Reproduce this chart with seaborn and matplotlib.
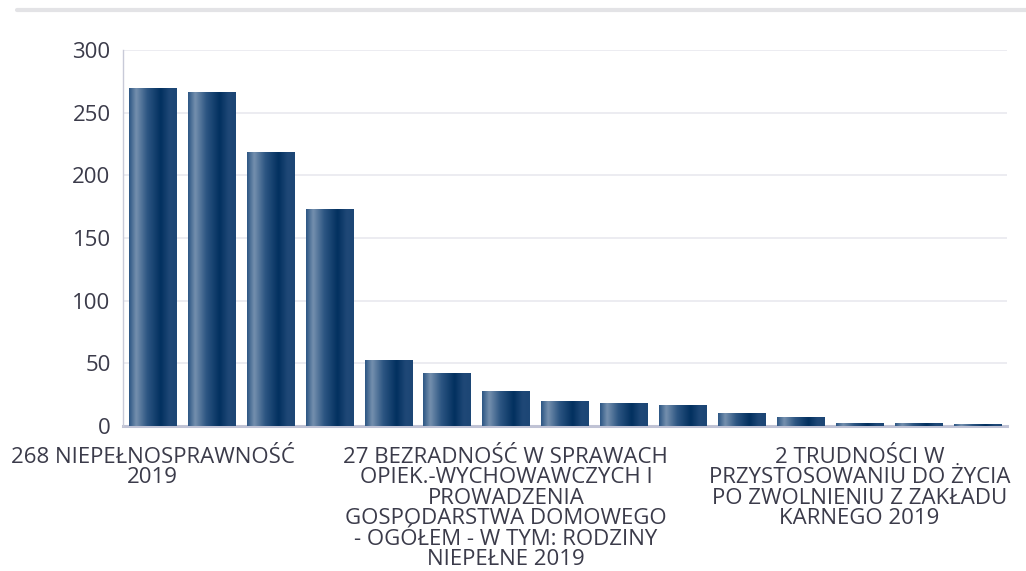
import numpy as np
import pandas as pd
import seaborn as sns
import matplotlib.pyplot as plt
from matplotlib.colors import LinearSegmentedColormap
from matplotlib.lines import Line2D

# values
values = [270, 267, 219, 173, 53, 42, 28, 20, 18, 17, 10, 7, 2.5, 2.5, 1.2]
# only every 6th category label is printed in the reference
labels = ["268 NIEPEŁNOSPRAWNOŚĆ\n2019", "", "", "", "", "",
          "27 BEZRADNOŚĆ W SPRAWACH\nOPIEK.-WYCHOWAWCZYCH I\nPROWADZENIA\n"
          "GOSPODARSTWA DOMOWEGO\n- OGÓŁEM - W TYM: RODZINY\nNIEPEŁNE 2019",
          "", "", "", "", "",
          "2 TRUDNOŚCI W\nPRZYSTOSOWANIU DO ŻYCIA\nPO ZWOLNIENIU Z ZAKŁADU\nKARNEGO 2019",
          "", ""]
yticks = [0, 50, 100, 150, 200, 250, 300]

df = pd.DataFrame({"idx": list(range(len(values))), "value": values})

sns.set_style("white")
plt.rcParams['font.family'] = ['Open Sans', 'DejaVu Sans']
text_col = "#3b3b4a"

fig = plt.figure(figsize=(10.26, 5.71), dpi=100)
ax = fig.add_axes([0.12, 0.254, 0.861, 0.658])

sns.barplot(data=df, x="idx", y="value", ax=ax, width=0.8,
            color="#003366", saturation=1, zorder=3)

# horizontal gradient fill for each bar, clipped to the bar shape
grad_cmap = LinearSegmentedColormap.from_list("bar", [
    (0.0, "#2b5583"), (0.15, "#7590ae"), (0.38, "#2d5683"),
    (0.66, "#02305f"), (0.85, "#1f4877"), (1.0, "#1c4675")])
grad = np.linspace(0, 1, 256).reshape(1, -1)
for p in ax.patches:
    x0, y0 = p.get_x(), p.get_y()
    w, h = p.get_width(), p.get_height()
    p.set_facecolor("none")
    p.set_edgecolor("none")
    im = ax.imshow(grad, cmap=grad_cmap, aspect="auto",
                   extent=[x0, x0 + w, y0, y0 + h], zorder=3,
                   interpolation="bicubic")
    im.set_clip_path(p)

ax.set_xlim(-0.5, len(values) - 0.5)
ax.set_ylim(0, 300)
ax.set_yticks(yticks)
ax.yaxis.grid(True, color="#e9e9ef", linewidth=1.2, zorder=0)
ax.set_axisbelow(True)

ax.set_xticks(range(len(values)))
ax.set_xticklabels(labels, fontsize=16, color=text_col, linespacing=0.97)
ax.tick_params(axis="x", length=0, pad=15)
ax.tick_params(axis="y", length=0, pad=9, labelsize=16, labelcolor=text_col)
ax.set_xlabel("")
ax.set_ylabel("")

for s in ["top", "right"]:
    ax.spines[s].set_visible(False)
ax.spines["left"].set_color("#c8cad8")
ax.spines["left"].set_linewidth(1.0)
ax.spines["bottom"].set_color("#c0c3d5")
ax.spines["bottom"].set_linewidth(2.2)
ax.spines["bottom"].set_zorder(1)

# title separator line at the very top (title itself is cut off)
fig.add_artist(Line2D([0.017, 1.0], [0.982, 0.982], transform=fig.transFigure,
                      color="#e3e3e6", linewidth=3))

fig.savefig("out.png", dpi=100)
